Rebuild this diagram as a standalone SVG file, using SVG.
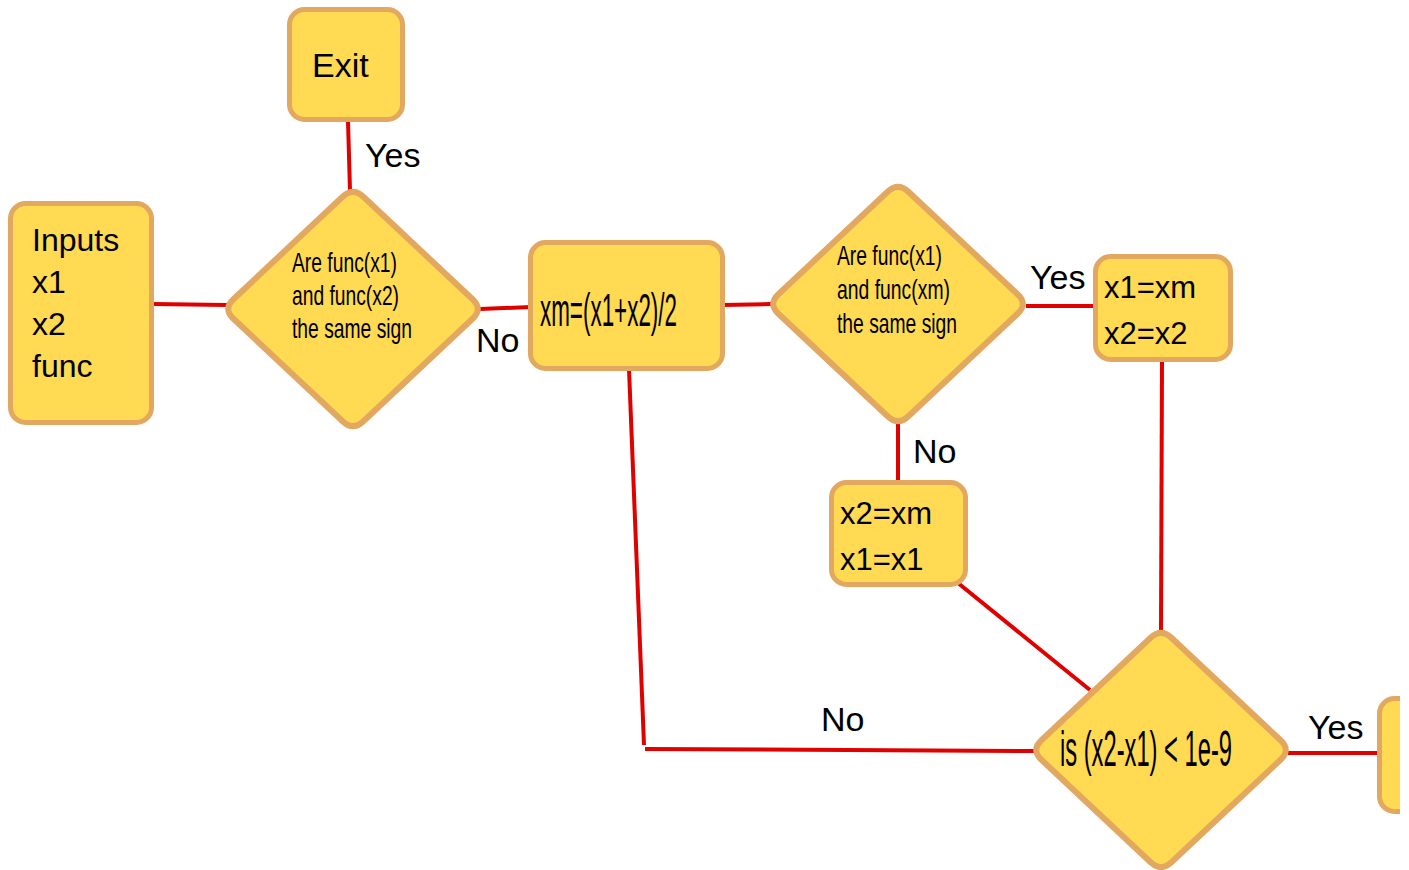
<svg xmlns="http://www.w3.org/2000/svg" xmlns:xlink="http://www.w3.org/1999/xlink" width="1409" height="870" viewBox="0 0 1409 870">
<defs>
<style>
.box{fill:#FFDA52;stroke:#E2A85F;stroke-width:5}
.dia{fill:#FFDA52;stroke:#E2A85F;stroke-width:6;stroke-linejoin:round}
.ln{stroke:#E00000;stroke-width:4;fill:none}
text{font-family:"Liberation Sans",Arial,sans-serif;fill:#000}
.t32{font-size:32px}
.t31{font-size:31px}
.lab{font-size:34px}
.dt{font-size:28px}
.big{font-size:46px}
</style>
<path id="diamond" d="M -119.6,-9.76 L -10.4,-112.24 Q 0,-122 10.4,-112.24 L 119.6,-9.76 Q 130,0 119.6,9.76 L 10.4,112.24 Q 0,122 -10.4,112.24 L -119.6,9.76 Q -130,0 -119.6,-9.76 Z"/>
<clipPath id="edge"><rect x="0" y="0" width="1400" height="870"/></clipPath>
</defs>
<rect width="1409" height="870" fill="#fff"/>
<g id="connectors">
<line class="ln" x1="348" y1="121" x2="350" y2="191"/>
<line class="ln" x1="153" y1="304" x2="227" y2="305"/>
<line class="ln" x1="480" y1="309" x2="531" y2="307"/>
<line class="ln" x1="723" y1="305" x2="771" y2="304"/>
<line class="ln" x1="1026" y1="306" x2="1096" y2="306"/>
<line class="ln" x1="898" y1="424" x2="898" y2="484"/>
<line class="ln" x1="958" y1="583" x2="1090" y2="690"/>
<line class="ln" x1="1162" y1="359" x2="1161" y2="631"/>
<line class="ln" x1="629" y1="369" x2="644" y2="745"/>
<line class="ln" x1="645" y1="749" x2="1035" y2="751"/>
<line class="ln" x1="1288" y1="753" x2="1380" y2="753"/>
<text class="lab" x="365" y="167">Yes</text>
<text class="lab" x="476" y="352">No</text>
<text class="lab" x="1030" y="289">Yes</text>
<text class="lab" x="913" y="463">No</text>
<text class="lab" x="821" y="731">No</text>
<text class="lab" x="1308" y="739">Yes</text>
</g>
<g id="exit">
<rect class="box" x="289.5" y="9.5" width="113" height="110" rx="15"/>
<text x="312" y="77" style="font-size:34px">Exit</text>
</g>
<g id="inputs">
<rect class="box" x="10.5" y="203.5" width="141" height="219" rx="15"/>
<text class="t32" x="32" y="251">Inputs</text>
<text class="t32" x="32" y="293">x1</text>
<text class="t32" x="32" y="335">x2</text>
<text class="t32" x="32" y="377">func</text>
</g>
<g id="check1">
<use xlink:href="#diamond" class="dia" transform="translate(353,309)"/>
<text class="dt" x="292" y="272" textLength="105" lengthAdjust="spacingAndGlyphs">Are func(x1)</text>
<text class="dt" x="292" y="305" textLength="107" lengthAdjust="spacingAndGlyphs">and func(x2)</text>
<text class="dt" x="292" y="338" textLength="120" lengthAdjust="spacingAndGlyphs">the same sign</text>
</g>
<g id="midpoint">
<rect class="box" x="530.5" y="242.5" width="192" height="126" rx="15"/>
<text class="big" x="540" y="326" textLength="137" lengthAdjust="spacingAndGlyphs">xm=(x1+x2)/2</text>
</g>
<g id="check2">
<use xlink:href="#diamond" class="dia" transform="translate(898,304)"/>
<text class="dt" x="837" y="265" textLength="105" lengthAdjust="spacingAndGlyphs">Are func(x1)</text>
<text class="dt" x="837" y="299" textLength="113" lengthAdjust="spacingAndGlyphs">and func(xm)</text>
<text class="dt" x="837" y="333" textLength="120" lengthAdjust="spacingAndGlyphs">the same sign</text>
</g>
<g id="update1">
<rect class="box" x="1095.5" y="256.5" width="135" height="103" rx="15"/>
<text class="t31" x="1104" y="298">x1=xm</text>
<text class="t31" x="1104" y="344">x2=x2</text>
</g>
<g id="update2">
<rect class="box" x="831.5" y="482.5" width="134" height="102" rx="15"/>
<text class="t31" x="840" y="524">x2=xm</text>
<text class="t31" x="840" y="570">x1=x1</text>
</g>
<g id="check3">
<use xlink:href="#diamond" class="dia" transform="translate(1161,750)"/>
<text x="1060" y="766" style="font-size:50px" textLength="172" lengthAdjust="spacingAndGlyphs">is (x2-x1) &lt; 1e-9</text>
</g>
<g id="next" clip-path="url(#edge)">
<rect class="box" x="1379.5" y="698.5" width="80" height="113" rx="15"/>
</g>
</svg>
